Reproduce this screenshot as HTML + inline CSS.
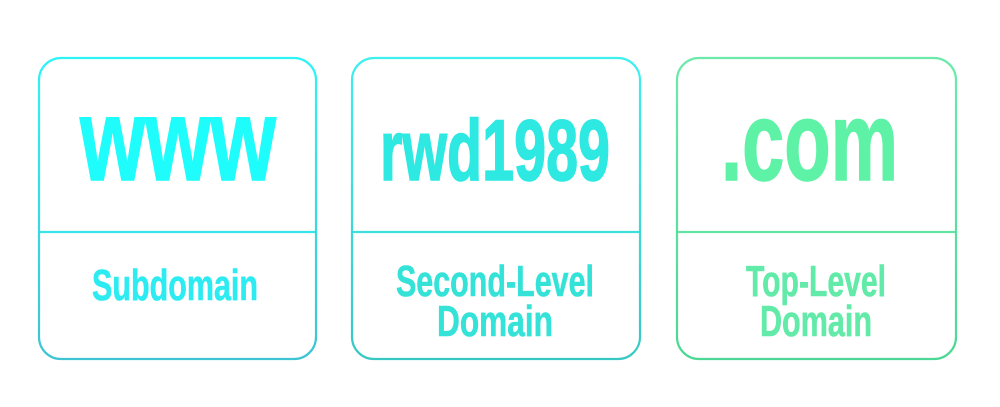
<!DOCTYPE html>
<html><head><style>body{margin:0;background:#fff}</style></head><body>
<svg width="1000" height="402" viewBox="0 0 1000 402" xmlns="http://www.w3.org/2000/svg" font-family="'Liberation Sans Narrow','Liberation Sans',sans-serif" font-weight="bold">
<defs>
<linearGradient id="g1" x1="0" y1="0" x2="0" y2="1"><stop offset="0" stop-color="#2ef4f6"/><stop offset="1" stop-color="#3ec4d2"/></linearGradient>
<linearGradient id="g2" x1="0" y1="0" x2="0" y2="1"><stop offset="0" stop-color="#3ef0ee"/><stop offset="1" stop-color="#38c8c4"/></linearGradient>
<linearGradient id="g3" x1="0" y1="0" x2="0" y2="1"><stop offset="0" stop-color="#6ceaaa"/><stop offset="1" stop-color="#4cd894"/></linearGradient>
</defs>
<g fill="none" stroke-width="2.2">
<rect x="39" y="58" width="277" height="301" rx="22" stroke="url(#g1)"/>
<line x1="40" y1="232" x2="315" y2="232" stroke="#3ae4ec"/>
<rect x="352" y="58" width="288" height="301" rx="22" stroke="url(#g2)"/>
<line x1="353" y1="232" x2="639" y2="232" stroke="#3ee0dc"/>
<rect x="677" y="58" width="279" height="301" rx="22" stroke="url(#g3)"/>
<line x1="678" y1="232" x2="955" y2="232" stroke="#62e4a4"/>
</g>
<text x="80" y="180" font-size="118" fill="#1ffcfc" stroke="#1ffcfc" stroke-width="1.5" textLength="196" lengthAdjust="spacingAndGlyphs">www</text>
<text x="380" y="180" font-size="86" fill="#2ee8e2" stroke="#2ee8e2" stroke-width="1.5" textLength="230" lengthAdjust="spacingAndGlyphs">rwd1989</text>
<text x="721" y="180" font-size="112" fill="#5ef2a6" stroke="#5ef2a6" stroke-width="1.5" textLength="177" lengthAdjust="spacingAndGlyphs">.com</text>
<text x="92" y="300" font-size="44" fill="#2cecf2" stroke="#2cecf2" stroke-width="0.6" textLength="166" lengthAdjust="spacingAndGlyphs">Subdomain</text>
<text x="396" y="296" font-size="44" fill="#34e2d8" stroke="#34e2d8" stroke-width="0.6" textLength="198" lengthAdjust="spacingAndGlyphs">Second-Level</text>
<text x="437" y="336" font-size="44" fill="#34e2d8" stroke="#34e2d8" stroke-width="0.6" textLength="116" lengthAdjust="spacingAndGlyphs">Domain</text>
<text x="746" y="296" font-size="44" fill="#62eaa8" stroke="#62eaa8" stroke-width="0.6" textLength="140" lengthAdjust="spacingAndGlyphs">Top-Level</text>
<text x="760" y="336" font-size="44" fill="#62eaa8" stroke="#62eaa8" stroke-width="0.6" textLength="112" lengthAdjust="spacingAndGlyphs">Domain</text>
</svg>
</body></html>
